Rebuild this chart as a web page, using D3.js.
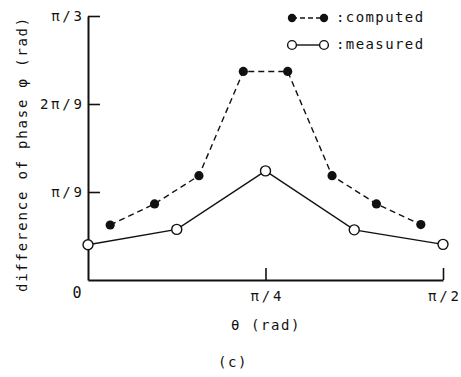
<!DOCTYPE html>
<html>
<head>
<meta charset="utf-8">
<script src="https://cdn.jsdelivr.net/npm/d3@7/dist/d3.min.js"></script>
<style>
  html, body { margin: 0; padding: 0; background: #fff; }
  svg { display: block; }
  text { font-family: "DejaVu Sans Mono", "Liberation Mono", monospace; fill: #111; }
</style>
</head>
<body>
<svg id="chart" width="461" height="377"></svg>
<script>
// Angles in degrees (θ on x, phase difference φ on y)
const computedTheta = [5.625, 16.875, 28.125, 39.375, 50.625, 61.875, 73.125, 84.375];
const computedPhi   = [12.5, 17.3, 23.7, 47.4, 47.4, 23.7, 17.3, 12.6];
const measuredTheta = [0, 22.5, 45, 67.5, 90];
const measuredPhi   = [8.0, 11.5, 24.8, 11.4, 8.1];

const xTickValues = [45, 90];
const xTickLabels = ["π/4", "π/2"];
const yTickValues = [20, 40, 60];
const yTickLabels = ["π/9", "2π/9", "π/3"];

const FONT = "DejaVu Sans Mono, Liberation Mono, monospace";
const TICK_SPACING = 2.8;
const svg = d3.select("#chart");
const x = d3.scaleLinear().domain([0, 90]).range([88, 443]);
const y = d3.scaleLinear().domain([0, 60]).range([280, 16]);

// Axes: ticks point into the plot
const xAxis = d3.axisBottom(x).tickValues(xTickValues)
  .tickFormat((d, i) => xTickLabels[i]).tickSizeInner(-12).tickSizeOuter(0).tickPadding(11);
const yAxis = d3.axisLeft(y).tickValues(yTickValues)
  .tickFormat((d, i) => yTickLabels[i]).tickSizeInner(-12).tickSizeOuter(0).tickPadding(6);

const gx = svg.append("g").attr("transform", "translate(0,280)").call(xAxis);
const gy = svg.append("g").attr("transform", "translate(88,0)").call(yAxis);
[gx, gy].forEach(g => {
  g.select(".domain").attr("stroke", "#111").attr("stroke-width", 2);
  g.selectAll(".tick line").attr("stroke", "#111").attr("stroke-width", 1.6);
  g.selectAll(".tick text").attr("font-size", 14).attr("font-family", FONT).attr("fill", "#111")
    .attr("letter-spacing", TICK_SPACING).attr("text-anchor", "start");
});
// Place spaced labels from their measured length (trailing spacing excluded)
gy.selectAll(".tick text").each(function () {
  const w = this.getComputedTextLength() - TICK_SPACING;
  d3.select(this).attr("x", -6 - w);
});
gx.selectAll(".tick text").each(function () {
  const w = this.getComputedTextLength() - TICK_SPACING;
  d3.select(this).attr("x", -w / 2);
});

// Origin label
svg.append("text").attr("x", 77).attr("y", 298).attr("text-anchor", "middle")
  .attr("font-size", 15).text("0");

// Axis titles
svg.append("text").attr("x", 266).attr("y", 330).attr("text-anchor", "middle")
  .attr("font-size", 14).attr("letter-spacing", 1.6).text("θ (rad)");
svg.append("text").attr("transform", "translate(27,154) rotate(-90)")
  .attr("text-anchor", "middle").attr("font-size", 14).attr("letter-spacing", 1.8)
  .text("difference of phase φ (rad)");
svg.append("text").attr("x", 233).attr("y", 367).attr("text-anchor", "middle")
  .attr("font-size", 14).attr("letter-spacing", 1.6).text("(c)");

const line = d3.line().x(d => x(d[0])).y(d => y(d[1]));
const computed = computedTheta.map((t, i) => [t, computedPhi[i]]);
const measured = measuredTheta.map((t, i) => [t, measuredPhi[i]]);

// Computed: dashed line with filled dots
svg.append("path").datum(computed).attr("d", line).attr("fill", "none")
  .attr("stroke", "#111").attr("stroke-width", 1.4).attr("stroke-dasharray", "6,4");
svg.append("g").selectAll("circle").data(computed).join("circle")
  .attr("cx", d => x(d[0])).attr("cy", d => y(d[1])).attr("r", 4.6).attr("fill", "#111");

// Measured: solid line with open dots
svg.append("path").datum(measured).attr("d", line).attr("fill", "none")
  .attr("stroke", "#111").attr("stroke-width", 1.4);
svg.append("g").selectAll("circle").data(measured).join("circle")
  .attr("cx", d => x(d[0])).attr("cy", d => y(d[1])).attr("r", 5)
  .attr("fill", "#fff").attr("stroke", "#111").attr("stroke-width", 1.4);

// Legend
const lg = svg.append("g");
lg.append("line").attr("x1", 292).attr("x2", 324).attr("y1", 18).attr("y2", 18)
  .attr("stroke", "#111").attr("stroke-width", 1.4).attr("stroke-dasharray", "5,3");
lg.append("circle").attr("cx", 292).attr("cy", 18).attr("r", 4.2).attr("fill", "#111");
lg.append("circle").attr("cx", 324).attr("cy", 18).attr("r", 4.2).attr("fill", "#111");
lg.append("text").attr("x", 336).attr("y", 22).attr("font-size", 14).attr("letter-spacing", 1.4).text(":computed");
lg.append("line").attr("x1", 292).attr("x2", 324).attr("y1", 45).attr("y2", 45)
  .attr("stroke", "#111").attr("stroke-width", 1.4);
lg.append("circle").attr("cx", 292).attr("cy", 45).attr("r", 4.4)
  .attr("fill", "#fff").attr("stroke", "#111").attr("stroke-width", 1.4);
lg.append("circle").attr("cx", 324).attr("cy", 45).attr("r", 4.4)
  .attr("fill", "#fff").attr("stroke", "#111").attr("stroke-width", 1.4);
lg.append("text").attr("x", 336).attr("y", 49).attr("font-size", 14).attr("letter-spacing", 1.4).text(":measured");
</script>
</body>
</html>
